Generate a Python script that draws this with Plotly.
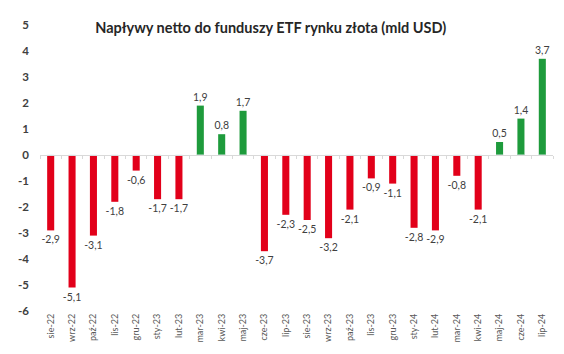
import plotly.graph_objects as go

categories = ["sie-22", "wrz-22", "paź-22", "lis-22", "gru-22", "sty-23", "lut-23",
              "mar-23", "kwi-23", "maj-23", "cze-23", "lip-23", "sie-23", "wrz-23",
              "paź-23", "lis-23", "gru-23", "sty-24", "lut-24", "mar-24", "kwi-24",
              "maj-24", "cze-24", "lip-24"]
values = [-2.9, -5.1, -3.1, -1.8, -0.6, -1.7, -1.7, 1.9, 0.8, 1.7, -3.7, -2.3,
          -2.5, -3.2, -2.1, -0.9, -1.1, -2.8, -2.9, -0.8, -2.1, 0.5, 1.4, 3.7]
y_ticks = [5, 4, 3, 2, 1, 0, -1, -2, -3, -4, -5, -6]

RED = "#E2001A"
GREEN = "#1E9B3C"
colors = [GREEN if v >= 0 else RED for v in values]
labels = [f"{v:.1f}".replace(".", ",") for v in values]
FONT = "Lato, Calibri, 'Open Sans', sans-serif"

fig = go.Figure()
fig.add_trace(go.Bar(
    x=categories, y=values, marker_color=colors, marker_line_width=0,
    text=labels, textposition="outside", cliponaxis=False, constraintext="none",
    textfont=dict(family=FONT, size=10.5, color="#404040"),
))
# invisible trace to drive a secondary x axis drawn along the zero line
fig.add_trace(go.Bar(x=categories, y=[0]*len(categories), xaxis="x2",
                     showlegend=False, hoverinfo="skip", marker_color="rgba(0,0,0,0)"))

fig.update_layout(
    width=564, height=354,
    margin=dict(l=40, r=11, t=25, b=41),
    paper_bgcolor="white", plot_bgcolor="white",
    showlegend=False, bargap=0.67, barmode="overlay",
    title=dict(text="<b>Napływy netto do funduszy ETF rynku złota (mld USD)</b>",
               x=0.48, xanchor="center", y=0.92, yanchor="middle",
               font=dict(family=FONT, size=14.5, color="#262626")),
    xaxis=dict(type="category", categoryorder="array", categoryarray=categories,
               tickangle=-90, tickfont=dict(family=FONT, size=9, color="#595959"),
               showgrid=False, showline=False, ticks="", zeroline=False),
    xaxis2=dict(type="category", matches="x", overlaying="x", anchor="free",
                position=6/11, showline=True, linecolor="#D9D9D9", linewidth=1,
                ticks="outside", tickson="boundaries", ticklen=3, tickcolor="#D9D9D9",
                showticklabels=False, showgrid=False, zeroline=False),
    yaxis=dict(range=[-6, 5], tickvals=y_ticks, ticktext=[str(t) for t in y_ticks],
               tickfont=dict(family=FONT, size=11.5, color="#404040", weight="bold"),
               showgrid=False, zeroline=False, showline=False, ticks="",
               ticklabelstandoff=10),
)

fig.write_html("out.html")
